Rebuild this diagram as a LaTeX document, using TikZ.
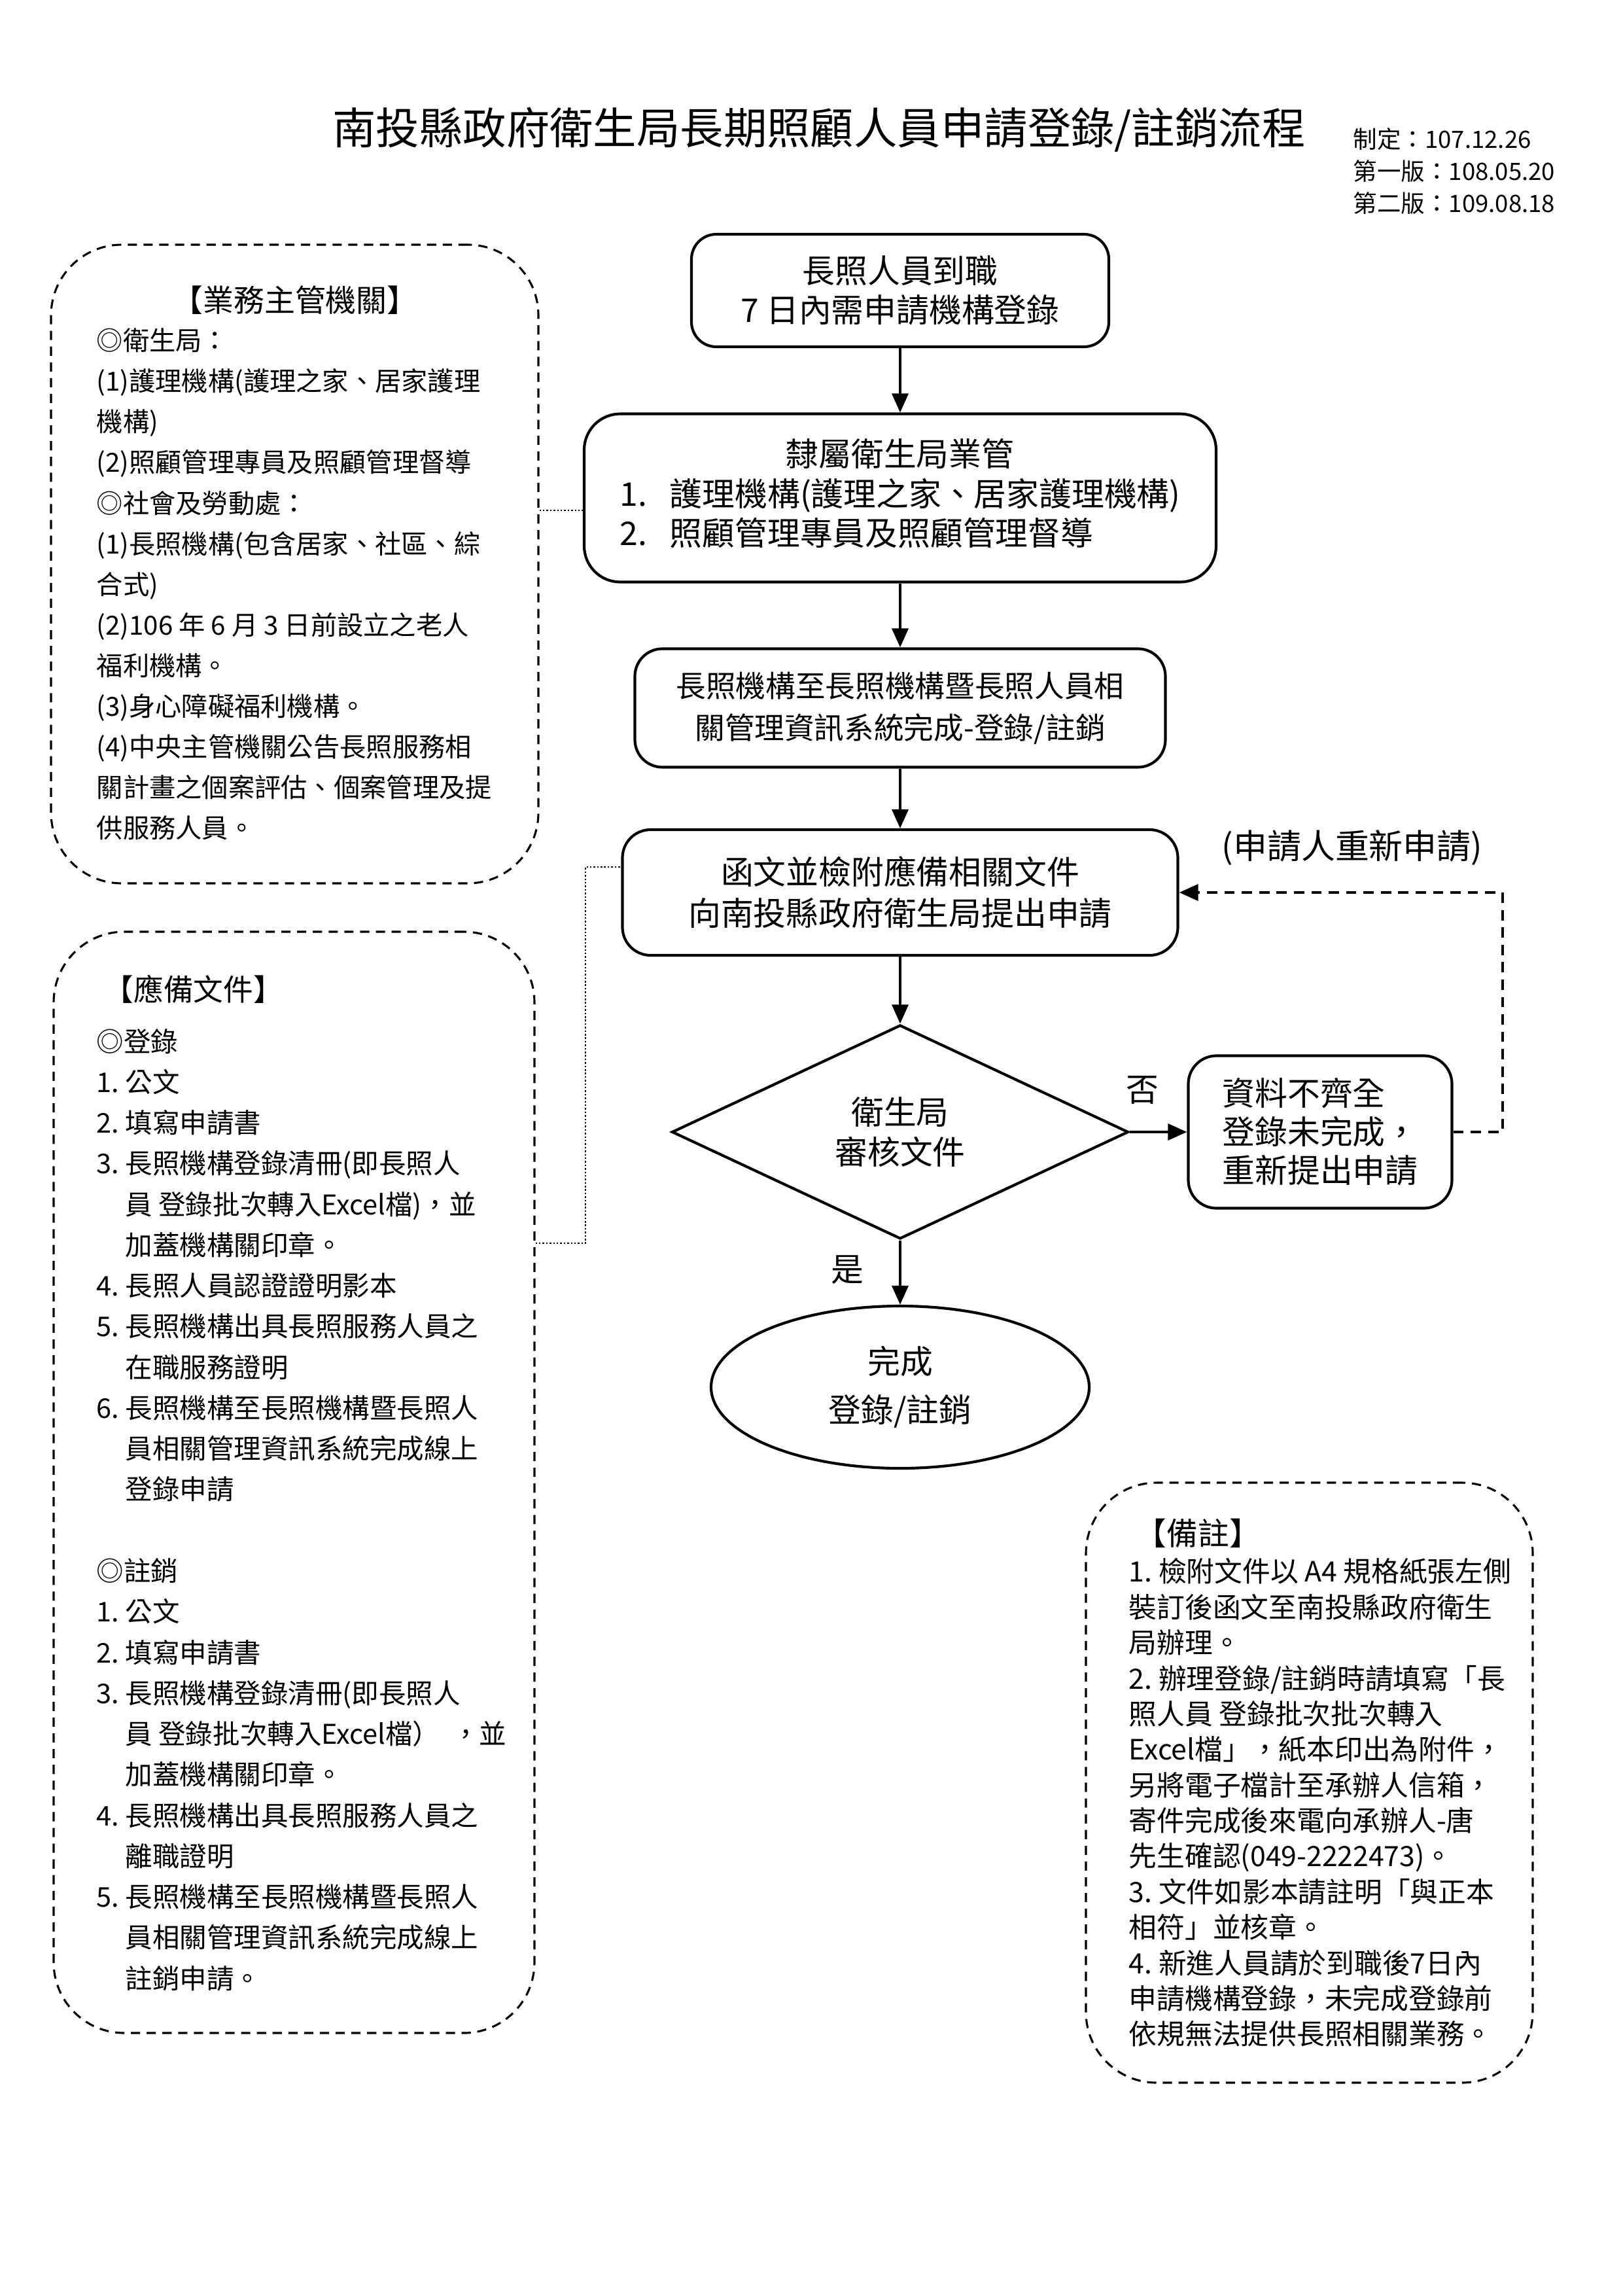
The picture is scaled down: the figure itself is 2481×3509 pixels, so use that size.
\documentclass[tikz,border=0pt]{standalone}
\usepackage{fontspec}
\usepackage{tikz}
\usetikzlibrary{arrows.meta,shapes.geometric}
\setmainfont{Noto Sans CJK TC}
\newcommand{\pxu}{0.084666mm}
\newcommand{\fsz}[2]{\fontsize{#1}{#2}\selectfont}

\begin{document}
\begin{tikzpicture}[x=0.084666mm, y=-0.084666mm,
  stepbox/.style={draw, line width=1pt, align=center, inner sep=0pt, font=\fsz{12}{14.6}},
  panel/.style={draw, line width=0.75pt, dash pattern=on 3.4pt off 2.4pt, rounded corners=108*\pxu, inner sep=0pt},
  flow/.style={line width=1pt, -{Triangle[length=7pt,width=6pt]}},
  back/.style={flow, dash pattern=on 3.8pt off 2.6pt},
  link/.style={line width=0.6pt, dash pattern=on 0.6pt off 0.7pt},
  txt/.style={inner sep=0pt, align=left}]
\useasboundingbox (0,0) rectangle (2481,3509);

% title and versions
\node[txt, font=\fsz{16}{18}] (title) at (1252,198) {南投縣政府衛生局長期照顧人員申請登錄/註銷流程};
\node[txt, anchor=west, font=\fsz{8.8}{11.8}] (version) at (2068,262)
  {制定：107.12.26\\第一版：108.05.20\\第二版：109.08.18};

% flow
\node[stepbox, minimum width=638*\pxu, minimum height=172*\pxu, rounded corners=38*\pxu] (arrive) at (1376,444)
  {長照人員到職\\7 日內需申請機構登錄};
\node[stepbox, minimum width=966*\pxu, minimum height=257*\pxu, rounded corners=55*\pxu] (affil) at (1376,761)
  {\begin{tabular}{@{}l@{}}\multicolumn{1}{c}{隸屬衛生局業管}\\
   1.\hspace{0.7em}護理機構(護理之家、居家護理機構)\\
   2.\hspace{0.7em}照顧管理專員及照顧管理督導\end{tabular}};
\node[stepbox, font=\fsz{11}{15.4}, minimum width=811*\pxu, minimum height=181*\pxu, rounded corners=42*\pxu] (system) at (1376,1082)
  {長照機構至長照機構暨長照人員相\\關管理資訊系統完成-登錄/註銷};
\node[stepbox, font=\fsz{12}{15.1}, minimum width=849*\pxu, minimum height=192*\pxu, rounded corners=43*\pxu] (submit) at (1376,1364)
  {函文並檢附應備相關文件\\向南投縣政府衛生局提出申請};
\node[stepbox, shape=diamond, minimum width=698*\pxu, minimum height=327*\pxu] (review) at (1376,1730)
  {衛生局\\審核文件};
\node[stepbox, align=left, font=\fsz{12}{14.2}, minimum width=403*\pxu, minimum height=233*\pxu, rounded corners=43*\pxu] (incomplete) at (2018,1730)
  {資料不齊全\\登錄未完成，\\重新提出申請};
\node[stepbox, shape=ellipse, font=\fsz{12}{17.8}, minimum width=578*\pxu, minimum height=248*\pxu] (done) at (1376,2120)
  {完成\\登錄/註銷};

\node[txt, font=\fsz{12}{14}] (no) at (1746,1666) {否};
\node[txt, font=\fsz{12}{14}] (yes) at (1295,1941) {是};
\node[txt, font=\fsz{12.5}{14}] (retry) at (2067,1296) {(申請人重新申請)};

\draw[flow] (arrive.south) -- (affil.north);
\draw[flow] (affil.south) -- (system.north);
\draw[flow] (system.south) -- (submit.north);
\draw[flow] (submit.south) -- (review.north);
\draw[flow] (review.south) -- (done.north);
\draw[flow] (review.east) -- (incomplete.west);
\draw[back] (incomplete.east) -- ++(75,0) |- (submit.east);

% side panels
\node[panel, minimum width=745*\pxu, minimum height=976*\pxu] (agency) at (450.5,862) {};
\node[txt, font=\fsz{11.3}{14}] (agencyhead) at (451,459) {【業務主管機關】};
\node[txt, anchor=west, font=\fsz{9.7}{14.96}] (agencytext) at (147,893)
  {◎衛生局：\\
   (1)護理機構(護理之家、居家護理\\
   機構)\\
   (2)照顧管理專員及照顧管理督導\\
   ◎社會及勞動處：\\
   (1)長照機構(包含居家、社區、綜\\
   合式)\\
   (2)106 年 6 月 3 日前設立之老人\\
   福利機構。\\
   (3)身心障礙福利機構。\\
   (4)中央主管機關公告長照服務相\\
   關計畫之個案評估、個案管理及提\\
   供服務人員。};

\node[panel, minimum width=735*\pxu, minimum height=1683*\pxu] (docs) at (449.5,2265.5) {};
\node[txt, anchor=west, font=\fsz{11}{14}] (docshead) at (158,1512) {【應備文件】};
\node[txt, anchor=west, font=\fsz{10}{15}] (docstext) at (147,2307.5)
  {◎登錄\\
   1.~公文\\
   2.~填寫申請書\\
   3.~長照機構登錄清冊(即長照人\\
   \phantom{3.~}員~登錄批次轉入Excel檔)，並\\
   \phantom{3.~}加蓋機構關印章。\\
   4.~長照人員認證證明影本\\
   5.~長照機構出具長照服務人員之\\
   \phantom{5.~}在職服務證明\\
   6.~長照機構至長照機構暨長照人\\
   \phantom{6.~}員相關管理資訊系統完成線上\\
   \phantom{6.~}登錄申請\\
   \mbox{}\\
   ◎註銷\\
   1.~公文\\
   2.~填寫申請書\\
   3.~長照機構登錄清冊(即長照人\\
   \phantom{3.~}員~登錄批次轉入Excel檔）~~，並\\
   \phantom{3.~}加蓋機構關印章。\\
   4.~長照機構出具長照服務人員之\\
   \phantom{4.~}離職證明\\
   5.~長照機構至長照機構暨長照人\\
   \phantom{5.~}員相關管理資訊系統完成線上\\
   \phantom{5.~}註銷申請。};

\node[panel, minimum width=683*\pxu, minimum height=917*\pxu] (notes) at (2001.5,2724.5) {};
\node[txt, anchor=west, font=\fsz{11.5}{14}] (noteshead) at (1735,2343) {【備註】};
\node[txt, anchor=west, font=\fsz{10.3}{13.1}] (notestext) at (1725,2755)
  {1.~檢附文件以~A4~規格紙張左側\\
   裝訂後函文至南投縣政府衛生\\
   局辦理。\\
   2.~辦理登錄/註銷時請填寫「長\\
   照人員~登錄批次批次轉入\\
   Excel檔」，紙本印出為附件，\\
   另將電子檔計至承辦人信箱，\\
   寄件完成後來電向承辦人-唐\\
   先生確認(049-2222473)。\\
   3.~文件如影本請註明「與正本\\
   相符」並核章。\\
   4.~新進人員請於到職後7日內\\
   申請機構登錄，未完成登錄前\\
   依規無法提供長照相關業務。};

% dotted links
\coordinate (tap1) at (860,780);
\coordinate (tap2) at (895,1900);
\coordinate (tap3) at (895,1325);
\draw[link] (agency.east |- tap1) -- (affil.west |- tap1);
\draw[link] (docs.east |- tap2) -- (tap2) -- (tap3) -- (submit.west |- tap3);
\end{tikzpicture}
\end{document}
